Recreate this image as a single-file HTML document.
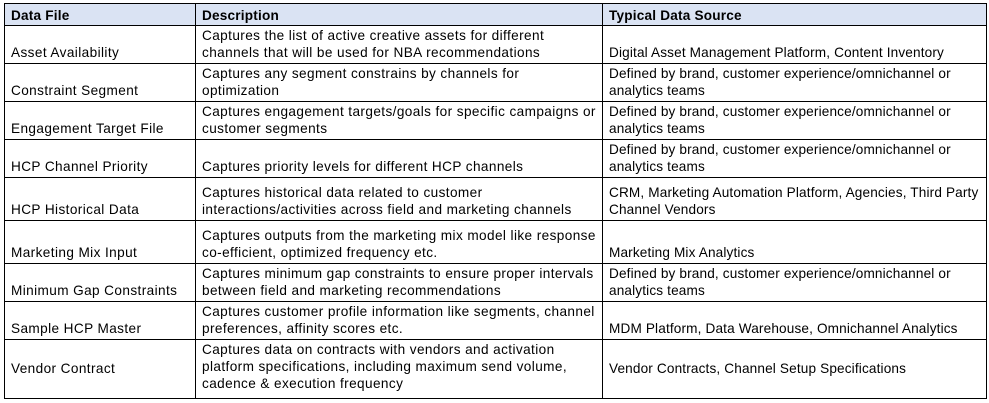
<!DOCTYPE html>
<html><head><meta charset="utf-8"><style>
body{margin:0;background:#fff;width:989px;height:403px;overflow:hidden}
table{position:absolute;left:4px;top:3px;width:982px;border-collapse:collapse;font-family:"Liberation Sans",Arial,sans-serif;font-size:13.6px;letter-spacing:0.4px;color:#000;table-layout:fixed}
td,th{border:1px solid #000;padding:0 6px 2px 6px;vertical-align:bottom;line-height:17px;text-align:left;white-space:nowrap;overflow:hidden}
td:nth-child(3){letter-spacing:0.15px}
th{background:#dae3f3;font-weight:bold;height:20px;padding-bottom:1px;letter-spacing:0.2px}
.m td{vertical-align:middle}
</style></head><body>
<table>
<colgroup><col style="width:191px"><col style="width:407px"><col style="width:384px"></colgroup>
<tr><th>Data File</th><th>Description</th><th>Typical Data Source</th></tr>
<tr style="height:38px"><td>Asset Availability</td><td>Captures the list of active creative assets for different<br>channels that will be used for NBA recommendations</td><td>Digital Asset Management Platform, Content Inventory</td></tr>
<tr style="height:38px"><td>Constraint Segment</td><td>Captures any segment constrains by channels for<br>optimization</td><td>Defined by brand, customer experience/omnichannel or<br>analytics teams</td></tr>
<tr style="height:38px"><td>Engagement Target File</td><td>Captures engagement targets/goals for specific campaigns or<br>customer segments</td><td>Defined by brand, customer experience/omnichannel or<br>analytics teams</td></tr>
<tr style="height:38px"><td>HCP Channel Priority</td><td>Captures priority levels for different HCP channels</td><td>Defined by brand, customer experience/omnichannel or<br>analytics teams</td></tr>
<tr style="height:43px"><td>HCP Historical Data</td><td>Captures historical data related to customer<br>interactions/activities across field and marketing channels</td><td>CRM, Marketing Automation Platform, Agencies, Third Party<br>Channel Vendors</td></tr>
<tr style="height:43px"><td>Marketing Mix Input</td><td>Captures outputs from the marketing mix model like response<br>co-efficient, optimized frequency etc.</td><td>Marketing Mix Analytics</td></tr>
<tr style="height:38px"><td>Minimum Gap Constraints</td><td>Captures minimum gap constraints to ensure proper intervals<br>between field and marketing recommendations</td><td>Defined by brand, customer experience/omnichannel or<br>analytics teams</td></tr>
<tr style="height:38px"><td>Sample HCP Master</td><td>Captures customer profile information like segments, channel<br>preferences, affinity scores etc.</td><td>MDM Platform, Data Warehouse, Omnichannel Analytics</td></tr>
<tr class="m" style="height:59px"><td>Vendor Contract</td><td style="vertical-align:top;padding-top:1px">Captures data on contracts with vendors and activation<br>platform specifications, including maximum send volume,<br>cadence &amp; execution frequency</td><td>Vendor Contracts, Channel Setup Specifications</td></tr>
</table>
</body></html>
